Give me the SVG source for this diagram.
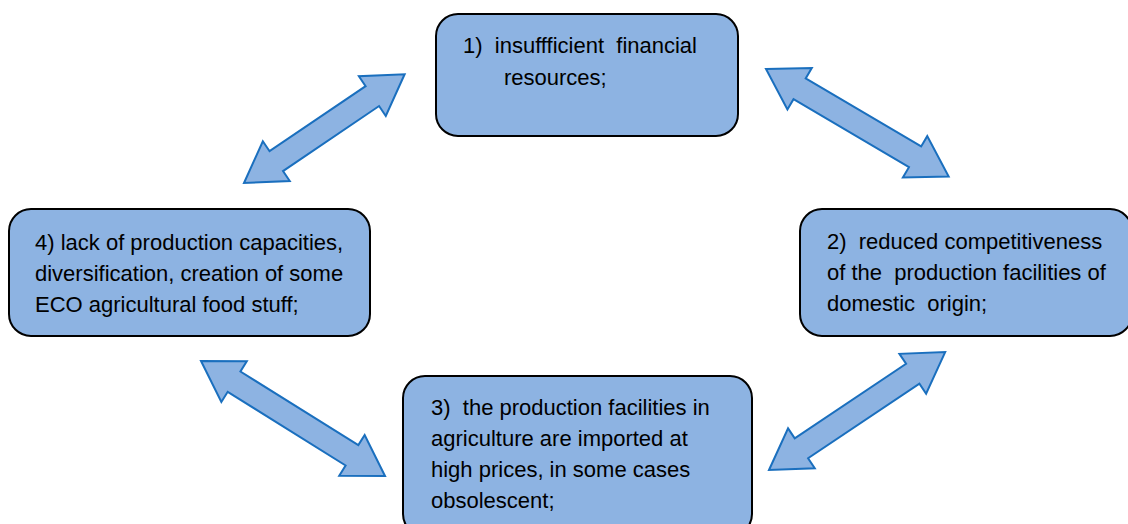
<svg xmlns="http://www.w3.org/2000/svg" width="1128" height="524" viewBox="0 0 1128 524">
<style>
.box{fill:#8db3e2;stroke:#000;stroke-width:2}
.arr{fill:#8db3e2;stroke:#1a6fbe;stroke-width:2;stroke-linejoin:miter}
text{font-family:"Liberation Sans",Arial,sans-serif;font-size:22px;fill:#000;white-space:pre}
</style>
<rect width="1128" height="524" fill="#fff"/>
<g id="connectors">
<polygon class="arr" transform="translate(244,183) rotate(-34.1)" points="0,0 39,-24 39,-12 155,-12 155,-24 194,0 155,24 155,12 39,12 39,24"/>
<polygon class="arr" transform="translate(766,69) rotate(30.5)" points="0,0 39,-24 39,-12 173,-12 173,-24 212,0 173,24 173,12 39,12 39,24"/>
<polygon class="arr" transform="translate(201,361) rotate(32)" points="0,0 39,-24 39,-12 178,-12 178,-24 217,0 178,24 178,12 39,12 39,24"/>
<polygon class="arr" transform="translate(769,470) rotate(-33.8)" points="0,0 39,-24 39,-12 173,-12 173,-24 212,0 173,24 173,12 39,12 39,24"/>
</g>
<g id="node1">
<rect class="box" x="436" y="14" width="302" height="122" rx="22"/>
<text x="463" y="53" xml:space="preserve">1)  insuffficient  financial</text>
<text x="504" y="85">resources;</text>
</g>
<g id="node2">
<rect class="box" x="800" y="209" width="332" height="127" rx="22"/>
<text x="827" y="249" xml:space="preserve">2)  reduced competitiveness</text>
<text x="827" y="280" xml:space="preserve">of the  production facilities of</text>
<text x="827" y="311" xml:space="preserve">domestic  origin;</text>
</g>
<g id="node3">
<rect class="box" x="403" y="376" width="349" height="160" rx="22"/>
<text x="431" y="415" xml:space="preserve">3)  the production facilities in</text>
<text x="431" y="446">agriculture are imported at</text>
<text x="431" y="477">high prices, in some cases</text>
<text x="431" y="508">obsolescent;</text>
</g>
<g id="node4">
<rect class="box" x="9" y="209" width="361" height="127" rx="22"/>
<text x="35" y="250">4) lack of production capacities,</text>
<text x="35" y="281">diversification, creation of some</text>
<text x="35" y="312">ECO agricultural food stuff;</text>
</g>
</svg>
